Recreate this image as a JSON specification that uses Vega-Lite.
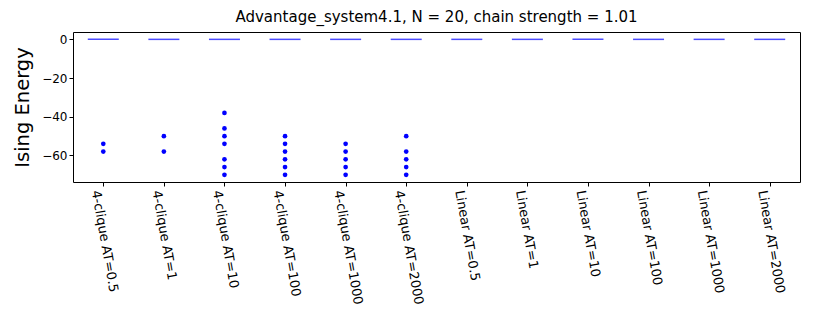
{
  "$schema": "https://vega.github.io/schema/vega-lite/v6.json",
  "width": 727,
  "height": 150,
  "autosize": {"type": "none"},
  "padding": {"left": 73, "top": 32, "right": 14, "bottom": 135},
  "background": "white",
  "config": {
    "font": "DejaVu Sans",
    "view": {"stroke": "black", "strokeWidth": 1},
    "axis": {"grid": false, "domain": false, "tickColor": "black", "labelColor": "black", "titleColor": "black", "tickSize": 4, "labelFontSize": 12}
  },
  "title": {"text": "Advantage_system4.1, N = 20, chain strength = 1.01", "fontSize": 15, "fontWeight": "normal", "anchor": "middle", "offset": 7, "color": "black"},
  "datasets": {
    "zero": [
      {"cat": "4-clique AT=0.5", "energy": 0},
      {"cat": "4-clique AT=1", "energy": 0},
      {"cat": "4-clique AT=10", "energy": 0},
      {"cat": "4-clique AT=100", "energy": 0},
      {"cat": "4-clique AT=1000", "energy": 0},
      {"cat": "4-clique AT=2000", "energy": 0},
      {"cat": "Linear AT=0.5", "energy": 0},
      {"cat": "Linear AT=1", "energy": 0},
      {"cat": "Linear AT=10", "energy": 0},
      {"cat": "Linear AT=100", "energy": 0},
      {"cat": "Linear AT=1000", "energy": 0},
      {"cat": "Linear AT=2000", "energy": 0}
    ],
    "samples": [
      {"cat": "4-clique AT=0.5", "energy": -54},
      {"cat": "4-clique AT=0.5", "energy": -58},
      {"cat": "4-clique AT=1", "energy": -50},
      {"cat": "4-clique AT=1", "energy": -58},
      {"cat": "4-clique AT=10", "energy": -38},
      {"cat": "4-clique AT=10", "energy": -46},
      {"cat": "4-clique AT=10", "energy": -50},
      {"cat": "4-clique AT=10", "energy": -54},
      {"cat": "4-clique AT=10", "energy": -62},
      {"cat": "4-clique AT=10", "energy": -66},
      {"cat": "4-clique AT=10", "energy": -70},
      {"cat": "4-clique AT=100", "energy": -50},
      {"cat": "4-clique AT=100", "energy": -54},
      {"cat": "4-clique AT=100", "energy": -58},
      {"cat": "4-clique AT=100", "energy": -62},
      {"cat": "4-clique AT=100", "energy": -66},
      {"cat": "4-clique AT=100", "energy": -70},
      {"cat": "4-clique AT=1000", "energy": -54},
      {"cat": "4-clique AT=1000", "energy": -58},
      {"cat": "4-clique AT=1000", "energy": -62},
      {"cat": "4-clique AT=1000", "energy": -66},
      {"cat": "4-clique AT=1000", "energy": -70},
      {"cat": "4-clique AT=2000", "energy": -50},
      {"cat": "4-clique AT=2000", "energy": -58},
      {"cat": "4-clique AT=2000", "energy": -62},
      {"cat": "4-clique AT=2000", "energy": -66},
      {"cat": "4-clique AT=2000", "energy": -70}
    ]
  },
  "encoding": {
    "x": {
      "field": "cat", "type": "nominal", "sort": null,
      "scale": {"type": "point", "padding": 0.5,
        "domain": ["4-clique AT=0.5", "4-clique AT=1", "4-clique AT=10", "4-clique AT=100", "4-clique AT=1000", "4-clique AT=2000", "Linear AT=0.5", "Linear AT=1", "Linear AT=10", "Linear AT=100", "Linear AT=1000", "Linear AT=2000"]},
      "axis": {"title": null, "labelAngle": 80, "labelAlign": "left", "labelBaseline": "middle", "labelPadding": 4, "labelOffset": -8, "labelFontSize": 13}
    },
    "y": {
      "field": "energy", "type": "quantitative",
      "scale": {"domain": [-73.7, 3.8], "nice": false, "zero": false},
      "axis": {"title": "Ising Energy", "titleFontSize": 19.5, "titleFontWeight": "normal", "values": [0, -20, -40, -60], "format": "d", "titlePadding": 9}
    }
  },
  "layer": [
    {
      "data": {"name": "zero"},
      "mark": {"type": "tick", "color": "#0000ff", "size": 31, "thickness": 1.5, "orient": "horizontal"}
    },
    {
      "data": {"name": "samples"},
      "mark": {"type": "circle", "color": "#0000ff", "size": 22, "opacity": 1}
    }
  ]
}
